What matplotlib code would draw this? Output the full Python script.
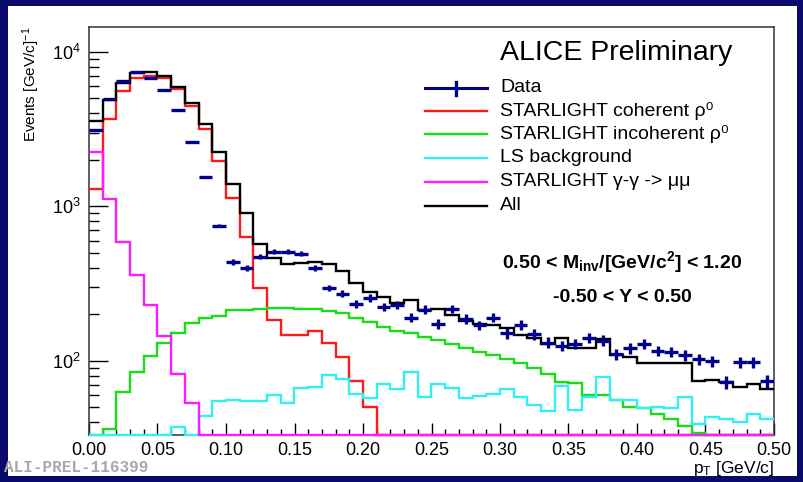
import numpy as np
import matplotlib.pyplot as plt
from matplotlib.patches import Rectangle
from matplotlib.lines import Line2D
from matplotlib.ticker import MultipleLocator, LogLocator, NullFormatter

plt.rcParams['font.family'] = ['Liberation Sans', 'DejaVu Sans']
plt.rcParams['mathtext.fontset'] = 'custom'
plt.rcParams['mathtext.rm'] = 'Liberation Sans'
plt.rcParams['mathtext.it'] = 'Liberation Sans:italic'
plt.rcParams['mathtext.bf'] = 'Liberation Sans:bold'

# pT bins: 50 bins of 0.01 GeV/c
edges = np.linspace(0.0, 0.5, 51)
centers = 0.5 * (edges[:-1] + edges[1:])

data = [3125, 4970, 6490, 7430, 6790, 5680, 4215, 2613, 1552, 748,
        437, 400, 471, 507, 507, 492, 400, 296, 272, 234,
        256, 224, 230, 190, 214, 174, 217, 187, 169, 190,
        150, 171, 149, 131, 125, 129, 141, 135, 110, 120,
        129, 116, 114, 109, 102, 99, 73, 98, 98, 74]
data_err = [45, 60, 70, 75, 70, 65, 55, 45, 30, 18,
            18, 17, 18, 18, 18, 18, 17, 15, 15, 14,
            15, 14, 14, 13, 14, 13, 14, 13, 12, 13,
            12, 12, 12, 11, 10, 10, 11, 11, 9, 10,
            10, 9, 9, 9, 8, 8, 7, 8, 8, 7]
all_mc = [3573, 4890, 6295, 7310, 7420, 7000, 5930, 4680, 3420, 2255,
          1400, 900, 570, 464, 425, 430, 437, 425, 383, 320,
          278, 260, 236, 248, 214, 215, 197, 180, 173, 170,
          164, 146, 140, 129, 141, 121, 121, 139, 109, 105,
          96, 96, 96, 96, 74, 75, 73, 68, 71, 66]
coherent = [1297, 3680, 5600, 6800, 7000, 6800, 5750, 4450, 3170, 1970,
            1135, 633, 296, 184, 147, 147, 156, 131, 105, 74,
            50, 22, 16, 10, 7, 5, 4, 3, 2, 2,
            1, 1, 1, 1, 1, 0, 0, 0, 0, 0,
            0, 0, 0, 0, 0, 0, 0, 0, 0, 0]
incoherent = [20, 36, 63, 85, 108, 131, 150, 175, 190, 195,
              214, 214, 217, 220, 220, 217, 217, 210, 205, 190,
              177, 165, 156, 150, 143, 137, 129, 121, 114, 109,
              102, 96, 89, 82, 73, 72, 60, 60, 56, 50,
              49, 45, 42, 38, 34, 31, 29, 27, 26, 24]
ls_bkg = [0, 0, 0, 0, 0, 0, 37, 0, 44, 55,
          56, 55, 55, 60, 53, 67, 68, 81, 76, 61,
          57, 71, 66, 84, 58, 71, 67, 57, 59, 61,
          66, 58, 52, 47, 69, 48, 58, 78, 56, 56,
          49, 50, 49, 58, 39, 43, 42, 40, 45, 42]
gammagamma = [2255, 1120, 589, 360, 230, 145, 82, 53, 0, 0,
              0, 0, 0, 0, 0, 0, 0, 0, 0, 0,
              0, 0, 0, 0, 0, 0, 0, 0, 0, 0,
              0, 0, 0, 0, 0, 0, 0, 0, 0, 0,
              0, 0, 0, 0, 0, 0, 0, 0, 0, 0]

ylo, yhi = 33, 14500
W, H = 804, 482


def fx(x):
    return x / W


def fy(y):
    return 1 - y / H


fig = plt.figure(figsize=(W / 100, H / 100), dpi=100, facecolor='#0a0a6a')
fig.patches.append(Rectangle((fx(8), fy(476)), (797 - 8) / W, (476 - 6) / H,
                             transform=fig.transFigure, facecolor='white',
                             edgecolor='none', zorder=-5))
ax = fig.add_axes([fx(89), fy(435), (774 - 89) / W, (435 - 27) / H])
ax.set_facecolor('white')

lw = 1.7
# bins below the axis range are drawn along the bottom, like ROOT does
hists = [(coherent, '#ff1a1a'), (incoherent, '#1add1a'), (ls_bkg, '#33f0f0'),
         (gammagamma, '#ff1aff'), (all_mc, 'black')]
for vals, col in hists:
    ax.stairs(np.maximum(vals, ylo), edges, baseline=None, color=col,
              lw=lw, clip_on=False, zorder=3)

ax.errorbar(centers, data, xerr=0.005, yerr=data_err, fmt='none',
            ecolor='#00008f', elinewidth=2.4, capsize=0, zorder=5)

ax.set_yscale('log')
ax.set_xlim(0, 0.5)
ax.set_ylim(ylo, yhi)

ax.xaxis.set_major_locator(MultipleLocator(0.05))
ax.xaxis.set_minor_locator(MultipleLocator(0.01))
ax.xaxis.set_major_formatter(plt.FuncFormatter(lambda v, p: f'{v:.2f}'))
ax.yaxis.set_minor_locator(LogLocator(base=10, subs=np.arange(2, 10)))
ax.yaxis.set_minor_formatter(NullFormatter())
ax.tick_params(axis='x', which='major', direction='in', length=8.5, width=1,
               labelsize=13, pad=5, top=False)
ax.tick_params(axis='x', which='minor', direction='in', length=4.3, width=1, top=False)
ax.tick_params(axis='y', which='major', direction='in', length=14, width=1,
               labelsize=13, pad=6, right=False)
ax.tick_params(axis='y', which='minor', direction='in', length=7, width=1, right=False)
for s in ax.spines.values():
    s.set_linewidth(1.1)
    s.set_color('#333333')

ax.set_ylabel('Events [GeV/c]$^{-1}$', loc='top', fontsize=11)
ax.yaxis.set_label_coords((42 - 89) / 685, 1.0)
ax.set_xlabel('p$_{\\mathrm{T}}$ [GeV/c]', loc='right', fontsize=12.5)
ax.xaxis.set_label_coords(1.0, -(459 - 435) / 408)

# legend, drawn by hand in ROOT style
fig.text(fx(500), fy(53), 'ALICE Preliminary', fontsize=20.5, va='center')
leg_labels = ['Data', 'STARLIGHT coherent \u03c1\u2070', 'STARLIGHT incoherent \u03c1\u2070',
              'LS background', 'STARLIGHT \u03b3-\u03b3 -> \u03bc\u03bc', 'All']
leg_colors = ['#00008f', '#ff1a1a', '#1add1a', '#33f0f0', '#ff1aff', 'black']
leg_rows = [88, 111, 134, 158, 182, 206]
for lab, col, yy in zip(leg_labels, leg_colors, leg_rows):
    fig.add_artist(Line2D([fx(425), fx(487)], [fy(yy), fy(yy)], color=col,
                          lw=2.2 if lab == 'Data' else lw))
    fig.text(fx(500), fy(yy), lab, fontsize=14, va='center')
fig.add_artist(Line2D([fx(456), fx(456)], [fy(yy) for yy in (82, 95)],
                      color='#00008f', lw=2.4))

fig.text(fx(502), fy(262), '0.50 < M$_{\\mathbf{inv}}$/[GeV/c$^{\\mathbf{2}}$] < 1.20',
         fontsize=14, fontweight='bold', va='center')
fig.text(fx(553), fy(297), '-0.50 < Y < 0.50', fontsize=14, fontweight='bold', va='center')
fig.text(fx(4), fy(467), 'ALI-PREL-116399', family='Liberation Mono', fontweight='bold',
         fontsize=11.5, color='#a8a8a8', va='center')

fig.savefig('out.png', dpi=100, facecolor=fig.get_facecolor())
